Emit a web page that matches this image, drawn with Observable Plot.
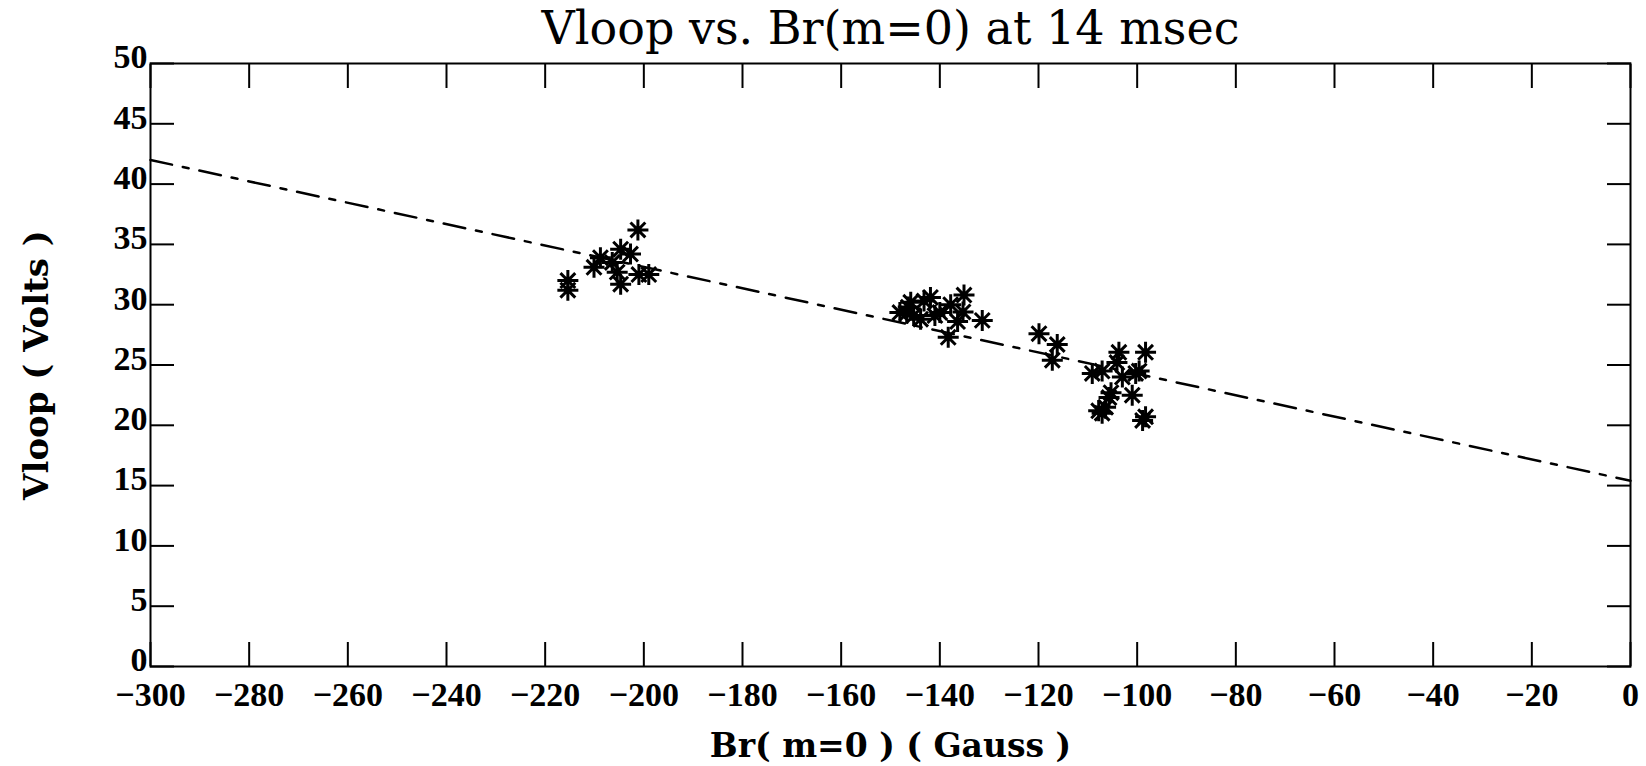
<!DOCTYPE html>
<html>
<head>
<meta charset="utf-8">
<script src="https://cdn.jsdelivr.net/npm/d3@7"></script>
<script src="https://cdn.jsdelivr.net/npm/@observablehq/plot@0.6"></script>
<style>
  html, body { margin: 0; padding: 0; background: #fff; }
</style>
</head>
<body>
<div id="chart"></div>
<script>
const titleText = "Vloop vs. Br(m=0) at 14 msec";
const xLabel = "Br( m=0 ) ( Gauss )";
const yLabel = "Vloop ( Volts )";

const xTicks = [-300, -280, -260, -240, -220, -200, -180, -160, -140, -120, -100, -80, -60, -40, -20, 0];
const yTicks = [0, 5, 10, 15, 20, 25, 30, 35, 40, 45, 50];

// Br(m=0) values (Gauss)
const brValues = [
  -201.2, -215.4, -215.4, -210.1, -208.8, -204.7, -202.7, -205.4, -204.7, -201.0, -199.0, -206.4,
  -148.1, -146.4, -145.3, -143.2, -141.9, -140.0, -137.8, -135.1, -136.4, -135.3, -131.4, -138.3, -141.0, -143.9, -145.9, -146.7,
  -119.9, -116.2, -117.2, -109.1, -107.8,
  -103.7, -98.3, -104.1, -107.1, -103.0, -100.3, -99.6, -105.7, -106.4, -107.1, -101.0, -98.9, -98.3, -105.3
];
// Vloop values (Volts)
const vloopValues = [
  36.2, 32.0, 31.2, 33.1, 33.9, 34.6, 34.2, 32.7, 31.7, 32.5, 32.5, 33.5,
  29.35, 29.8, 29.1, 30.3, 30.6, 29.35, 30.0, 30.8, 28.6, 29.4, 28.7, 27.3, 29.1, 28.8, 30.2, 29.3,
  27.6, 26.7, 25.4, 24.3, 21.2,
  26.05, 26.05, 25.2, 24.5, 24.0, 24.3, 24.5, 22.3, 21.5, 21.0, 22.5, 20.4, 20.7, 22.7
];

// Fit line endpoints
const fitBr = [-300, 0];
const fitVloop = [42.0, 15.4];

const points = brValues.map((b, i) => ({br: b, v: vloopValues[i]}));
const fit = fitBr.map((b, i) => ({br: b, v: fitVloop[i]}));

// 8-armed star symbol
const star = {
  draw(context, size) {
    const r = Math.sqrt(size / Math.PI);
    const d = r * Math.SQRT1_2;
    context.moveTo(-r, 0); context.lineTo(r, 0);
    context.moveTo(0, -r); context.lineTo(0, r);
    context.moveTo(-d, -d); context.lineTo(d, d);
    context.moveTo(-d, d); context.lineTo(d, -d);
  }
};

const fmt = d => d < 0 ? "\u2212" + (-d) : String(d);
const serif = "'DejaVu Serif', serif";
const tickFont = "'Liberation Serif', serif";

const chart = Plot.plot({
  width: 1646,
  height: 766,
  marginLeft: 150,
  marginRight: 16,
  marginTop: 63,
  marginBottom: 100,
  style: {fontFamily: serif, color: "#000", background: "#fff", overflow: "visible"},
  x: {domain: [-300, 0]},
  y: {domain: [0, 50]},
  marks: [
    Plot.frame({stroke: "#000", strokeWidth: 2}),
    // tick marks (inward)
    Plot.axisX({anchor: "bottom", ticks: xTicks, tickSize: -24, strokeWidth: 2, tickFormat: () => "", label: null}),
    Plot.axisX({anchor: "top", ticks: xTicks, tickSize: -24, strokeWidth: 2, tickFormat: () => "", label: null}),
    Plot.axisY({anchor: "left", ticks: yTicks, tickSize: -24, strokeWidth: 2, tickFormat: () => "", label: null}),
    Plot.axisY({anchor: "right", ticks: yTicks, tickSize: -24, strokeWidth: 2, tickFormat: () => "", label: null}),
    // tick labels
    Plot.axisX({anchor: "bottom", ticks: xTicks, tickSize: 0, tickPadding: 15,
      tickFormat: fmt, fontSize: 34, fontWeight: "bold", fontFamily: tickFont, label: null}),
    Plot.axisY({anchor: "left", ticks: yTicks, tickSize: 0, tickPadding: 3,
      tickFormat: fmt, fontSize: 34, fontWeight: "bold", fontFamily: tickFont, dy: -6, label: null}),
    Plot.line(fit, {x: "br", y: "v", stroke: "#000", strokeWidth: 2.5, strokeDasharray: "22,11,6,11"}),
    Plot.dot(points, {x: "br", y: "v", symbol: star, r: 10.5, stroke: "#000", strokeWidth: 3}),
    Plot.text([titleText], {text: d => d, frameAnchor: "top", lineAnchor: "middle", dy: -34, fontSize: 46, fontWeight: "normal", fill: "#000"}),
    Plot.text([xLabel], {text: d => d, frameAnchor: "bottom", lineAnchor: "middle", dy: 80, fontSize: 33, fontWeight: "bold", fill: "#000"}),
    Plot.text([yLabel], {text: d => d, frameAnchor: "left", textAnchor: "middle", dx: -113, rotate: -90, fontSize: 34, fontWeight: "bold", fill: "#000"})
  ]
});
document.getElementById("chart").appendChild(chart);
</script>
</body>
</html>
